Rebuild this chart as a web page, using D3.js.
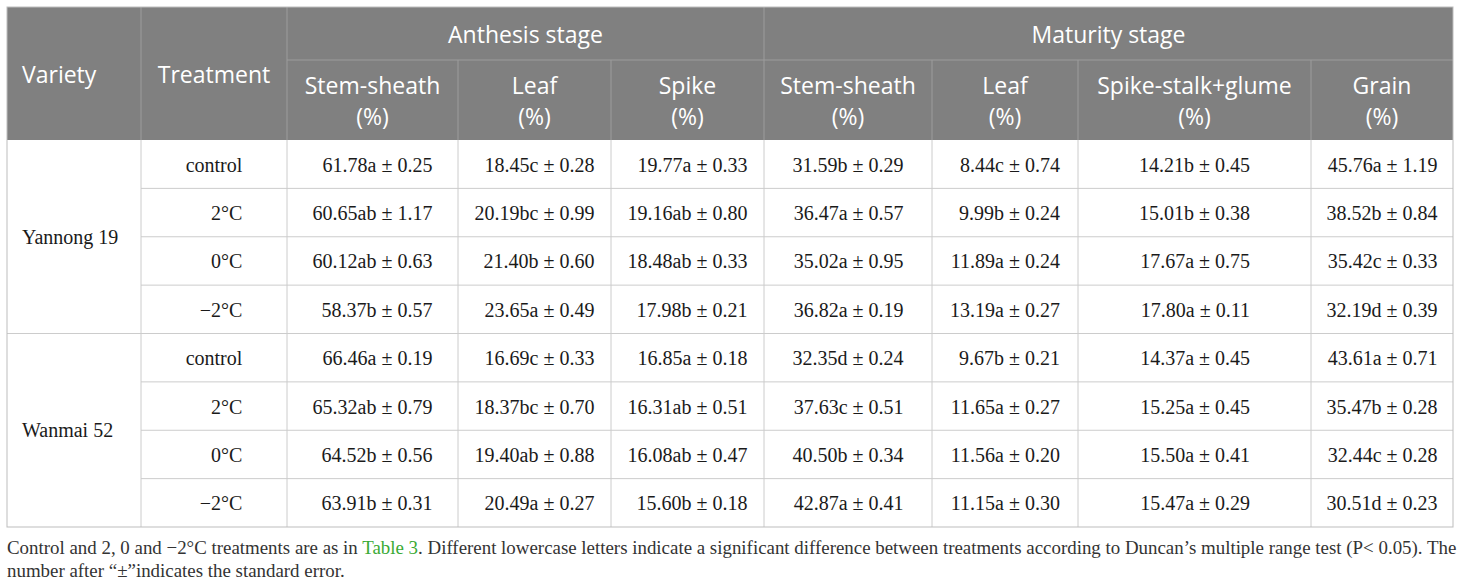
<!DOCTYPE html>
<html>
<head>
<meta charset="utf-8">
<script src="https://cdn.jsdelivr.net/npm/d3@7"></script>
<style>
  body { margin: 0; background: #fff; }
  svg { display: block; }
</style>
</head>
<body>
<div id="table"></div>
<script>
// Table data
const stages = ["Anthesis stage", "Maturity stage"];
const stageSpans = [3, 4];
const columnNames = [
    ["Stem-sheath", "(%)"], ["Leaf", "(%)"], ["Spike", "(%)"],
    ["Stem-sheath", "(%)"], ["Leaf", "(%)"], ["Spike-stalk+glume", "(%)"], ["Grain", "(%)"]
];
const varieties = ["Yannong 19", "Wanmai 52"];
const treatments = ["control", "2°C", "0°C", "−2°C"];

const anthesisStem = ["61.78a ± 0.25", "60.65ab ± 1.17", "60.12ab ± 0.63", "58.37b ± 0.57",
                      "66.46a ± 0.19", "65.32ab ± 0.79", "64.52b ± 0.56", "63.91b ± 0.31"];
const anthesisLeaf = ["18.45c ± 0.28", "20.19bc ± 0.99", "21.40b ± 0.60", "23.65a ± 0.49",
                      "16.69c ± 0.33", "18.37bc ± 0.70", "19.40ab ± 0.88", "20.49a ± 0.27"];
const anthesisSpike = ["19.77a ± 0.33", "19.16ab ± 0.80", "18.48ab ± 0.33", "17.98b ± 0.21",
                       "16.85a ± 0.18", "16.31ab ± 0.51", "16.08ab ± 0.47", "15.60b ± 0.18"];
const maturityStem = ["31.59b ± 0.29", "36.47a ± 0.57", "35.02a ± 0.95", "36.82a ± 0.19",
                      "32.35d ± 0.24", "37.63c ± 0.51", "40.50b ± 0.34", "42.87a ± 0.41"];
const maturityLeaf = ["8.44c ± 0.74", "9.99b ± 0.24", "11.89a ± 0.24", "13.19a ± 0.27",
                      "9.67b ± 0.21", "11.65a ± 0.27", "11.56a ± 0.20", "11.15a ± 0.30"];
const maturitySpike = ["14.21b ± 0.45", "15.01b ± 0.38", "17.67a ± 0.75", "17.80a ± 0.11",
                       "14.37a ± 0.45", "15.25a ± 0.45", "15.50a ± 0.41", "15.47a ± 0.29"];
const maturityGrain = ["45.76a ± 1.19", "38.52b ± 0.84", "35.42c ± 0.33", "32.19d ± 0.39",
                       "43.61a ± 0.71", "35.47b ± 0.28", "32.44c ± 0.28", "30.51d ± 0.23"];
const valueColumns = [anthesisStem, anthesisLeaf, anthesisSpike,
                      maturityStem, maturityLeaf, maturitySpike, maturityGrain];

const footnote = [
    ["Control and 2, 0 and −2°C treatments are as in ", "Table 3",
     ". Different lowercase letters indicate a significant difference between treatments according to Duncan’s multiple range test (P< 0.05). The"],
    ["number after “±”indicates the standard error."]
];

// Layout
const width = 1460, height = 585;
const tLeft = 7, tRight = 1453, tTop = 7;
const headRow1 = 60, headBottom = 140, bodyBottom = 527;
// column edges: variety, treatment, then the seven value columns
const colEdges = [tLeft, 141, 287, 458, 611, 764, 932, 1078, 1311, tRight];

const headerFill = "#808080";
const headerLine = "#9c9c9c";
const bodyLine = "#cccccc";
const headFont = "'Open Sans', sans-serif";
const bodyFont = "'Liberation Serif', 'Times New Roman', serif";

const nRows = varieties.length * treatments.length;
const y = d3.scaleLinear().domain([0, nRows]).range([headBottom, bodyBottom]);
// baseline of the text in row r
const rowBase = r => (y(r) + y(r + 1)) / 2 + 7.5;

const svg = d3.select("#table").append("svg")
    .attr("width", width)
    .attr("height", height)
    .attr("viewBox", [0, 0, width, height]);

// Header background
svg.append("rect")
    .attr("x", tLeft).attr("y", tTop)
    .attr("width", tRight - tLeft).attr("height", headBottom - tTop)
    .attr("fill", headerFill);

const header = svg.append("g").attr("class", "header");

// header lines
header.append("line")
    .attr("x1", colEdges[2]).attr("x2", tRight)
    .attr("y1", headRow1).attr("y2", headRow1)
    .attr("stroke", headerLine);
[1, 2, 5].forEach(i => {
    header.append("line")
        .attr("x1", colEdges[i]).attr("x2", colEdges[i])
        .attr("y1", tTop).attr("y2", headBottom)
        .attr("stroke", headerLine);
});
[3, 4, 6, 7, 8].forEach(i => {
    header.append("line")
        .attr("x1", colEdges[i]).attr("x2", colEdges[i])
        .attr("y1", headRow1).attr("y2", headBottom)
        .attr("stroke", headerLine);
});

const headText = (sel) => sel
    .attr("fill", "#fff")
    .style("font-family", headFont)
    .style("font-size", "23px");

header.append("text")
    .attr("x", 22).attr("y", 83)
    .text("Variety")
    .call(headText);

header.append("text")
    .attr("x", (colEdges[1] + colEdges[2]) / 2).attr("y", 83)
    .attr("text-anchor", "middle")
    .text("Treatment")
    .call(headText);

let startCol = 2;
stages.forEach((s, i) => {
    const x0 = colEdges[startCol], x1 = colEdges[startCol + stageSpans[i]];
    header.append("text")
        .attr("x", (x0 + x1) / 2).attr("y", 43)
        .attr("text-anchor", "middle")
        .text(s)
        .call(headText);
    startCol += stageSpans[i];
});

// two-line column titles
columnNames.forEach((name, i) => {
    const cx = (colEdges[i + 2] + colEdges[i + 3]) / 2;
    name.forEach((line, j) => {
        header.append("text")
            .attr("x", cx).attr("y", 93.5 + j * 31.5)
            .attr("text-anchor", "middle")
            .text(line)
            .call(headText);
    });
});

// Body
const body = svg.append("g").attr("class", "body");

// horizontal row lines (not across the variety column, except between varieties)
d3.range(1, nRows).forEach(r => {
    const between = r % treatments.length === 0;
    body.append("line")
        .attr("x1", between ? tLeft : colEdges[1]).attr("x2", tRight)
        .attr("y1", y(r)).attr("y2", y(r))
        .attr("stroke", bodyLine);
});
// vertical lines
colEdges.slice(1, -1).forEach(x => {
    body.append("line")
        .attr("x1", x).attr("x2", x)
        .attr("y1", headBottom).attr("y2", bodyBottom)
        .attr("stroke", bodyLine);
});
// outer border
svg.append("rect")
    .attr("x", tLeft).attr("y", tTop)
    .attr("width", tRight - tLeft).attr("height", bodyBottom - tTop)
    .attr("fill", "none")
    .attr("stroke", "#bdbdbd");

const bodyText = (sel) => sel
    .attr("fill", "#1a1a1a")
    .style("font-family", bodyFont)
    .style("font-size", "20px");

// variety labels
varieties.forEach((v, i) => {
    body.append("text")
        .attr("x", 22)
        .attr("y", (y(i * treatments.length) + y((i + 1) * treatments.length)) / 2 + 7)
        .text(v)
        .call(bodyText);
});

// treatment labels, right aligned within a centred block
const rowData = d3.range(nRows).map(r => treatments[r % treatments.length]);
const treatText = body.append("g").selectAll("text")
    .data(rowData)
    .join("text")
    .attr("y", (d, r) => rowBase(r))
    .attr("text-anchor", "end")
    .text(d => d)
    .call(bodyText);
{
    const maxW = d3.max(treatText.nodes(), n => n.getComputedTextLength());
    const cx = (colEdges[1] + colEdges[2]) / 2;
    treatText.attr("x", cx + maxW / 2);
}

// value columns, aligned right within a centred block
valueColumns.forEach((vals, c) => {
    const t = body.append("g").selectAll("text")
        .data(vals)
        .join("text")
        .attr("y", (d, r) => rowBase(r))
        .attr("text-anchor", "end")
        .text(d => d)
        .call(bodyText);
    const maxW = d3.max(t.nodes(), n => n.getComputedTextLength());
    const cx = (colEdges[c + 2] + colEdges[c + 3]) / 2;
    t.attr("x", cx + maxW / 2);
});

// Footnote
footnote.forEach((parts, i) => {
    const t = svg.append("text")
        .attr("x", tLeft)
        .attr("y", 554 + i * 23)
        .attr("fill", "#333")
        .style("font-family", bodyFont)
        .style("font-size", "18.9px");
    parts.forEach(p => {
        t.append("tspan")
            .attr("fill", p === "Table 3" ? "#3aaa35" : null)
            .text(p);
    });
});
</script>
</body>
</html>
